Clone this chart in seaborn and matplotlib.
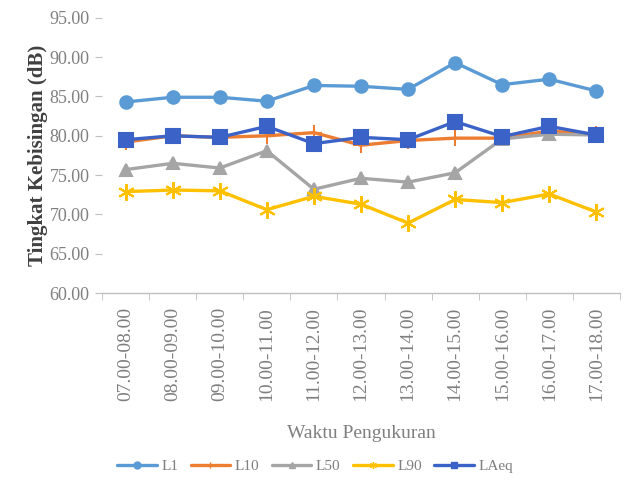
import matplotlib
matplotlib.use("Agg")
import matplotlib.pyplot as plt
import seaborn as sns
import pandas as pd
from matplotlib.lines import Line2D

categories = ["07.00-08.00", "08.00-09.00", "09.00-10.00", "10.00-11.00", "11.00-12.00",
              "12.00-13.00", "13.00-14.00", "14.00-15.00", "15.00-16.00", "16.00-17.00",
              "17.00-18.00"]
L1 = [84.3, 84.9, 84.9, 84.4, 86.4, 86.3, 85.9, 89.3, 86.5, 87.2, 85.7]
L10 = [79.2, 80.0, 79.8, 80.0, 80.4, 78.8, 79.4, 79.7, 79.7, 80.6, 80.2]
L50 = [75.7, 76.5, 75.9, 78.1, 73.2, 74.6, 74.1, 75.3, 79.6, 80.2, 80.1]
L90 = [72.9, 73.1, 73.0, 70.6, 72.3, 71.3, 68.9, 71.9, 71.5, 72.6, 70.3]
LAeq = [79.5, 80.0, 79.8, 81.2, 79.0, 79.8, 79.5, 81.8, 79.9, 81.2, 80.1]
series_names = ["L1", "L10", "L50", "L90", "LAeq"]
yticks = [60, 65, 70, 75, 80, 85, 90, 95]

series = {"L1": L1, "L10": L10, "L50": L50, "L90": L90, "LAeq": LAeq}
rows = []
for name in series_names:
    for i, v in enumerate(series[name]):
        rows.append({"idx": i, "val": v, "series": name})
df = pd.DataFrame(rows)

colors = {"L1": "#5B9BD5", "L10": "#ED7D31", "L50": "#A5A5A5", "L90": "#FFC000", "LAeq": "#3B62C6"}
markers = {"L1": "o", "L10": "+", "L50": "^", "L90": (6, 2, 0), "LAeq": "s"}
msizes = {"L1": 9, "L10": 11, "L50": 9, "L90": 12, "LAeq": 9.5}

sns.set_style("white")
plt.rcParams["font.family"] = ["Liberation Serif", "DejaVu Serif"]

fig = plt.figure(figsize=(6.3, 4.82), dpi=100)
ax = fig.add_axes([0.162, 0.392, 0.822, 0.571])

for name in series_names:
    sub = df[df["series"] == name]
    sns.lineplot(data=sub, x="idx", y="val", ax=ax, color=colors[name], marker=markers[name],
                 markersize=msizes[name], markeredgecolor=colors[name], markeredgewidth=1.5,
                 linewidth=2.4, legend=False)

ax.set_xlim(-0.5, len(categories) - 0.5)
ax.set_ylim(60, 95)
ax.set_yticks(yticks)
ax.set_yticklabels([f"{t:.2f}" for t in yticks], color="#7F7F7F", fontsize=13)
ax.set_xticks(range(len(categories)))
ax.set_xticklabels(categories, rotation=90, color="#7F7F7F", fontsize=14)
ax.set_xticks([i - 0.5 for i in range(len(categories) + 1)], minor=True)
ax.tick_params(axis="x", which="major", length=0, pad=10)
ax.tick_params(axis="x", which="minor", length=5, color="#BFBFBF", bottom=True)
ax.tick_params(axis="y", length=5, color="#BFBFBF", left=True, pad=4)

for s in ["top", "right", "left"]:
    ax.spines[s].set_visible(False)
ax.spines["bottom"].set_color("#BFBFBF")
ax.spines["bottom"].set_linewidth(1.0)

ax.set_xlabel("Waktu Pengukuran", fontsize=14, color="#7F7F7F", labelpad=17)
ax.set_ylabel("Tingkat Kebisingan (dB)", fontsize=15, fontweight="bold", color="#404040", labelpad=1)

handles = [Line2D([0], [0], color=colors[n], marker=markers[n], markersize=5,
                  markeredgecolor=colors[n], linewidth=2.4) for n in series_names]
fig.legend(handles, series_names, loc="center", bbox_to_anchor=(0.5, 0.033), ncol=5,
           frameon=False, fontsize=11, handlelength=2.6, columnspacing=0.8, handletextpad=0.3,
           labelcolor="#7F7F7F")

fig.savefig("out.png", dpi=100)
